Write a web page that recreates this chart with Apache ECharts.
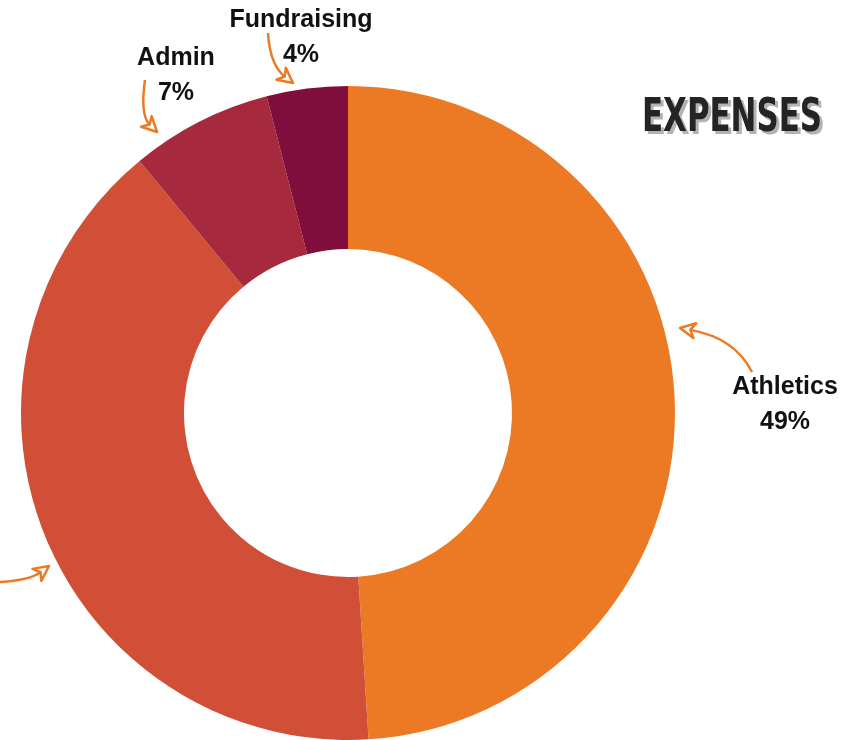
<!DOCTYPE html>
<html><head><meta charset="utf-8">
<script src="https://cdn.jsdelivr.net/npm/echarts@6/dist/echarts.min.js"></script>
<style>html,body{margin:0;padding:0;background:#fff}#c{width:854px;height:740px}</style>
</head><body><div id="c"></div>
<script>
var categories = ['Athletics', 'Programs', 'Admin', 'Fundraising'];
var values = [49, 40, 7, 4];
var colors = ['#EC7A25', '#D14F37', '#A6293E', '#7F0E3C'];
var titleText = 'EXPENSES';

var labelPos = [[785, 370], null, [176, 41], [301, 3]];
var arrowOrange = '#EC7A25';
var arrows = [
  {s:[752,372], c:[735,338], t:[680,328]},
  {s:[145,80], c:[140,115], t:[157,132]},
  {s:[268,33], c:[270,65], t:[293,83]},
  {s:[0,582], c:[30,580], t:[49,566]}
];
function arrowGraphics(a){
  var dx=a.t[0]-a.c[0], dy=a.t[1]-a.c[1], L=Math.sqrt(dx*dx+dy*dy); dx/=L; dy/=L;
  var px=-dy, py=dx, len=15, w=7.5;
  var bx=a.t[0]-dx*len, by=a.t[1]-dy*len;
  var nx=a.t[0]-dx*len*0.7, ny=a.t[1]-dy*len*0.7;
  return [
    {type:'bezierCurve', shape:{x1:a.s[0],y1:a.s[1],cpx1:a.c[0],cpy1:a.c[1],x2:nx,y2:ny}, style:{stroke:arrowOrange,lineWidth:2.5,fill:null}, z:10},
    {type:'polygon', shape:{points:[[a.t[0],a.t[1]],[bx+px*w,by+py*w],[nx,ny],[bx-px*w,by-py*w]]}, style:{stroke:arrowOrange,lineWidth:2.5,fill:'#fff',lineJoin:'round'}, z:10}
  ];
}
var g = [];
arrows.forEach(function(a){ g = g.concat(arrowGraphics(a)); });
g.push({type:'text', x:645, y:99, scaleX:0.63, scaleY:0.95, z:5, style:{text:titleText, font:'bold 49px "DejaVu Sans"', fill:'#b3b3b3', verticalAlign:'top'}});
g.push({type:'text', x:642, y:96, scaleX:0.63, scaleY:0.95, z:6, style:{text:titleText, font:'bold 49px "DejaVu Sans"', fill:'#242424', verticalAlign:'top'}});

var chart = echarts.init(document.getElementById('c'));
chart.setOption({
  animation:false,
  series:[{
    type:'pie',
    center:[348,413],
    radius:[164,327],
    startAngle:90,
    clockwise:true,
    avoidLabelOverlap:false,
    data: categories.map(function(n,i){
      return {name:n, value:values[i], itemStyle:{color:colors[i]}, label:{show: labelPos[i]!==null}};
    }),
    label:{
      position:'outside', formatter:'{b}\n{d}%',
      fontFamily:'"Liberation Sans", Arial, sans-serif', fontWeight:'bold', fontSize:25, lineHeight:35, color:'#111', align:'center'
    },
    labelLine:{show:false},
    labelLayout:function(p){
      var pos = labelPos[p.dataIndex];
      if(!pos) return {};
      return {x:pos[0], y:pos[1], align:'center', verticalAlign:'top'};
    }
  }],
  graphic:g
});
</script></body></html>
